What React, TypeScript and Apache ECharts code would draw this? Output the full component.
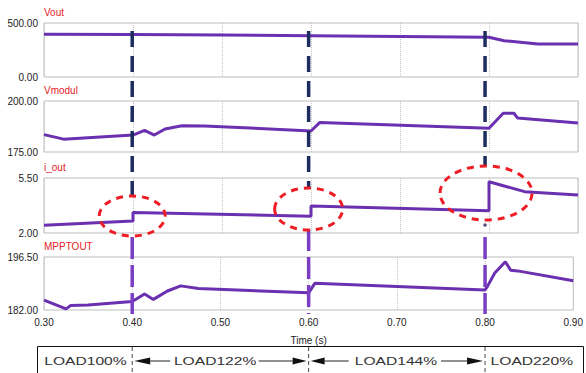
import React, { useEffect, useRef } from 'react';
import * as echarts from 'echarts';

const xMin = 0.3;
const xMax = 0.9;
const xStep = 0.1;

const panelTitles = ['Vout', 'Vmodul', 'i_out', 'MPPTOUT'];
const yMins = [0, 175, 2, 182];
const yMaxs = [500, 200, 5.5, 196.5];

const voutTime = [0.3, 0.4, 0.5, 0.6, 0.7, 0.8, 0.817, 0.855, 0.9];
const voutValues = [395, 393, 388, 382, 376, 368, 336, 305, 305];

const vmodulTime = [0.3, 0.322, 0.4, 0.413, 0.424, 0.436, 0.455, 0.48, 0.6, 0.61, 0.8, 0.816, 0.828, 0.832, 0.9];
const vmodulValues = [183.5, 181.3, 183.3, 185.6, 183.3, 186.3, 187.9, 187.8, 185.3, 189.5, 186.6, 194.0, 194.0, 191.7, 189.2];

const ioutTime = [0.3, 0.4, 0.4, 0.6, 0.6, 0.8, 0.8, 0.84, 0.9];
const ioutValues = [2.5, 2.76, 3.3, 3.07, 3.72, 3.42, 5.26, 4.63, 4.42];

const mpptTime = [0.3, 0.325, 0.33, 0.35, 0.4, 0.414, 0.424, 0.44, 0.455, 0.475, 0.6, 0.607, 0.8, 0.803, 0.811, 0.823, 0.829, 0.837, 0.9];
const mpptValues = [184.7, 182.3, 183.2, 183.4, 184.3, 186.4, 184.9, 187.2, 188.6, 187.9, 186.7, 189.3, 187.5, 188.6, 192.1, 195.2, 192.9, 192.7, 190.0];

const loadEvents = [0.4, 0.6, 0.8];
const loadLabels = ['LOAD100%', 'LOAD122%', 'LOAD144%', 'LOAD220%'];
const loadLabelCenters = [0.347, 0.494, 0.699, 0.853];

const seriesTimes = [voutTime, vmodulTime, ioutTime, mpptTime];
const seriesValues = [voutValues, vmodulValues, ioutValues, mpptValues];

const grids = [
  { top: 23, height: 54 },
  { top: 101, height: 51 },
  { top: 178, height: 55 },
  { top: 257, height: 53 },
];

const FONT = 'Liberation Sans, Arial, sans-serif';
const LINE_COLOR = '#6a30b0';

export default function App() {
  const ref = useRef<HTMLDivElement>(null);

  useEffect(() => {
    document.body.style.margin = '0';
    if (!ref.current) return;
    const chart = echarts.init(ref.current, undefined, { renderer: 'svg' });

    const option: any = {
      animation: false,
      backgroundColor: '#ffffff',
      title: panelTitles.map((t, i) => ({
        text: t,
        left: 44,
        top: grids[i].top - 16,
        padding: 0,
        textStyle: { fontSize: 10, color: '#e5212a', fontWeight: 'normal', fontFamily: FONT },
      })),
      grid: grids.map((g) => ({
        left: 44,
        width: 534,
        top: g.top,
        height: g.height,
        show: true,
        borderColor: '#bdbdbd',
        borderWidth: 1,
        backgroundColor: 'transparent',
      })),
      xAxis: grids.map((_, i) => ({
        type: 'value',
        gridIndex: i,
        min: xMin,
        max: xMax,
        interval: xStep,
        axisLine: { show: false },
        axisTick: { show: false },
        splitLine: { show: true, lineStyle: { type: 'dotted', color: '#c4c4c4', width: 1 } },
        axisLabel: {
          show: i === 3,
          formatter: (v: number) => v.toFixed(2),
          fontSize: 10,
          color: '#222',
          margin: 7,
          fontFamily: FONT,
        },
        name: i === 3 ? 'Time (s)' : '',
        nameLocation: 'middle',
        nameGap: 25,
        nameTextStyle: { fontSize: 10, color: '#222', fontFamily: FONT },
      })),
      yAxis: grids.map((_, i) => ({
        type: 'value',
        gridIndex: i,
        min: yMins[i],
        max: yMaxs[i],
        axisLine: { show: false },
        axisTick: { show: false },
        splitLine: { show: false },
        axisLabel: {
          customValues: [yMins[i], yMaxs[i]],
          formatter: (v: number) => v.toFixed(2),
          fontSize: 10,
          color: '#222',
          margin: 6,
          fontFamily: FONT,
        },
      })),
      series: seriesTimes.map((ts, i) => ({
        type: 'line',
        name: panelTitles[i],
        xAxisIndex: i,
        yAxisIndex: i,
        symbol: 'none',
        data: ts.map((t, j) => [t, seriesValues[i][j]]),
        lineStyle: { color: LINE_COLOR, width: 3 },
        z: 3,
      })),
    };
    chart.setOption(option);

    const px = (t: number) => chart.convertToPixel({ xAxisIndex: 3 }, t) as number;
    const ev = loadEvents.map(px);
    const navyEnd = [195, 189, 166];
    const purpleStart = [237, 229, 237];
    const g: any[] = [];

    // bottom box
    g.push({
      type: 'rect', z: 10,
      shape: { x: 37.5, y: 346.5, width: 546, height: 40 },
      style: { fill: '#fff', stroke: '#111', lineWidth: 1 },
    });

    ev.forEach((x, i) => {
      g.push({
        type: 'line', z: 20,
        shape: { x1: x, y1: 31, x2: x, y2: navyEnd[i] },
        style: { stroke: '#1d2c5e', lineWidth: 3.5, lineDash: [16, 9] },
      });
      g.push({
        type: 'line', z: 20,
        shape: { x1: x, y1: purpleStart[i], x2: x, y2: 314 },
        style: { stroke: '#7a3ec4', lineWidth: 3.5, lineDash: [22, 6] },
      });
      g.push({
        type: 'line', z: 12,
        shape: { x1: x, y1: 347, x2: x, y2: 373 },
        style: { stroke: '#444', lineWidth: 1, lineDash: [4, 3] },
      });
    });

    g.push({ type: 'circle', z: 20, shape: { cx: ev[2], cy: 225, r: 1.8 }, style: { fill: '#5a4f8a' } });

    // red dashed ellipses
    const ell = [
      { cx: ev[0], cy: 216, rx: 33, ry: 20 },
      { cx: ev[1], cy: 209, rx: 34, ry: 21 },
      { cx: ev[2] + 1, cy: 193, rx: 46, ry: 27 },
    ];
    ell.forEach((e) => {
      g.push({
        type: 'ellipse', z: 25,
        shape: e,
        style: { fill: 'none', stroke: '#ee1c24', lineWidth: 3, lineDash: [7, 6] },
      });
    });

    // labels
    loadLabels.forEach((t, i) => {
      g.push({
        type: 'text', z: 15,
        x: px(loadLabelCenters[i]), y: 361, scaleX: 1.42,
        style: { text: t, fontSize: 11, fill: '#333', align: 'center', verticalAlign: 'middle', fontFamily: FONT },
      });
    });

    const ay = 361;
    const lineEl = (x1: number, x2: number) => ({
      type: 'line', z: 15, shape: { x1, y1: ay, x2, y2: ay }, style: { stroke: '#222', lineWidth: 1 },
    });
    const head = (tip: number, base: number) => ({
      type: 'polygon', z: 15,
      shape: { points: [[tip, ay], [base, ay - 3.5], [base, ay + 3.5]] },
      style: { fill: '#111' },
    });
    g.push(head(ev[0] + 2, ev[0] + 18), lineEl(ev[0] + 18, ev[0] + 38));
    g.push(lineEl(ev[1] - 50, ev[1] - 16), head(ev[1] - 2, ev[1] - 16));
    g.push(head(ev[1] + 2, ev[1] + 16), lineEl(ev[1] + 16, ev[1] + 40));
    g.push(lineEl(ev[2] - 44, ev[2] - 18), head(ev[2] - 2, ev[2] - 18));

    chart.setOption({ graphic: g });

    return () => chart.dispose();
  }, []);

  return <div ref={ref} style={{ width: 586, height: 373 }} />;
}
